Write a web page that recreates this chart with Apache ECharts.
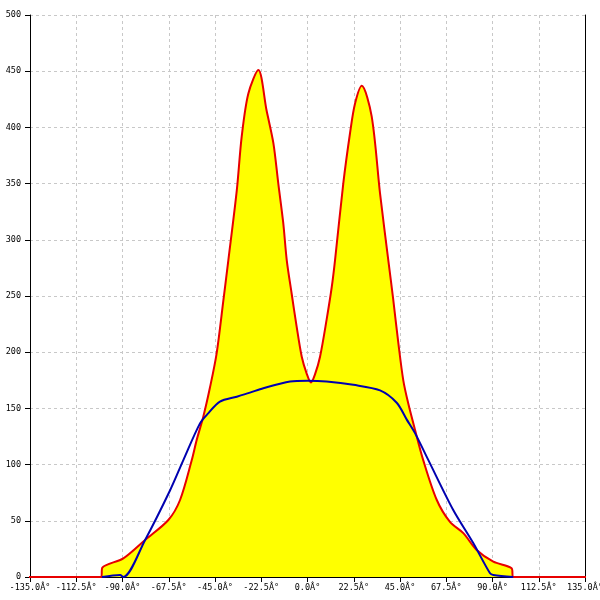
<!DOCTYPE html>
<html><head><meta charset="utf-8">
<script src="https://cdn.jsdelivr.net/npm/echarts@6/dist/echarts.min.js"></script>
<style>html,body{margin:0;padding:0;background:#fff}#c{width:600px;height:600px}</style>
</head><body><div id="c"></div>
<script>
const redX = [-150, -100.4, -99.8, -89.6, -79, -67.7, -62, -56.3, -53.9, -50.7, -47.4, -44.2, -41, -38.5, -34.4, -32, -28.8, -23.9, -19.9, -16.6, -14.2, -11.8, -10.1, -7.7, -5.3, -2.8, -0.4, 1.7, 3.6, 6.1, 9.3, 11.8, 13.4, 17.4, 20.7, 23.1, 26.4, 31.2, 35.3, 39.3, 41.7, 44.2, 46.6, 49, 52.3, 56.3, 62.9, 69.3, 75.8, 82.3, 90.4, 99.3, 100.1, 150];
const redY = [0, 0, 8.3, 16.6, 33, 50.7, 68.5, 104, 122, 142.6, 169, 199, 245, 282, 344, 392, 430, 451, 415, 386, 350, 315, 282, 252, 223, 196, 181, 173, 180, 196, 229, 258, 282, 350, 395, 421, 437, 410, 341, 282, 247, 208, 175, 154.5, 131, 104, 68.5, 49, 39, 24, 13.6, 7.7, 0, 0];
const blueX = [-100, -91.2, -89.6, -79, -66.9, -60.4, -52.3, -48.3, -42.6, -34.4, -28, -21.5, -8.5, 0, 9.3, 22.3, 35.3, 43.4, 48.3, 52.3, 58.8, 70.9, 80.7, 88.8, 90.4, 100.1];
const blueY = [0, 1.8, 0, 33, 77, 104, 136.7, 145.6, 156, 160.4, 164, 168, 174, 174.7, 174, 171, 166, 155, 140, 128, 104, 59.6, 30, 3.3, 1.8, 0];
const xMin = -135, xMax = 135, xStep = 22.5;
const yMin = 0, yMax = 500, yStep = 50;
const degSuffix = 'Â°';

const font = 'DejaVu Sans Mono';
const chart = echarts.init(document.getElementById('c'));
chart.setOption({
  animation: false,
  grid: { left: 30, right: 15, top: 15, bottom: 23, containLabel: false, outerBoundsMode: 'none' },
  xAxis: {
    type: 'value', min: xMin, max: xMax, interval: xStep,
    axisLine: { show: true, onZero: false, lineStyle: { color: '#000', width: 1 } },
    axisTick: { show: true, length: 5, lineStyle: { color: '#000' } },
    axisLabel: { color: '#000', fontFamily: font, fontSize: 8.5, margin: 6, showMinLabel: true, showMaxLabel: true,
      hideOverlap: false, formatter: v => v.toFixed(1) + degSuffix },
    splitLine: { show: true, lineStyle: { color: '#c8c8c8', type: [3, 3], width: 1 } }
  },
  yAxis: [{
    type: 'value', min: yMin, max: yMax, interval: yStep, position: 'left',
    axisLine: { show: true, onZero: false, lineStyle: { color: '#000', width: 1 } },
    axisTick: { show: true, length: 5, lineStyle: { color: '#000' } },
    axisLabel: { color: '#000', fontFamily: font, fontSize: 8.5, margin: 9 },
    splitLine: { show: true, lineStyle: { color: '#c8c8c8', type: [3, 3], width: 1 } }
  }, {
    type: 'value', min: yMin, max: yMax, interval: yStep, position: 'right',
    axisLine: { show: true, onZero: false, lineStyle: { color: '#000', width: 1 } },
    axisTick: { show: false }, axisLabel: { show: false }, splitLine: { show: false }
  }],
  series: [{
    type: 'line', clip: false, symbol: 'none', smooth: 0.3,
    data: redX.map((x, i) => [x, redY[i]]),
    lineStyle: { color: '#e80000', width: 2 },
    areaStyle: { color: '#ffff00', opacity: 1 },
    z: 3
  }, {
    type: 'line', symbol: 'none', smooth: 0.3,
    data: blueX.map((x, i) => [x, blueY[i]]),
    lineStyle: { color: '#0000b0', width: 2 },
    z: 4
  }]
});
</script>
</body></html>
